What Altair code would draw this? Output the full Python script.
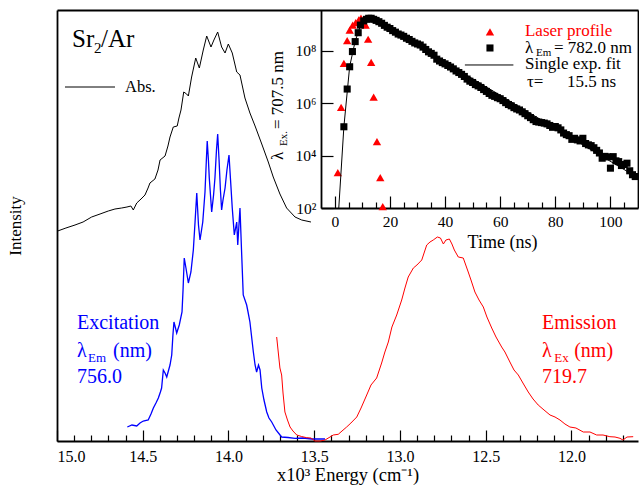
import altair as alt
import pandas as pd

FONT = "Liberation Serif"
BLUE = "#0000ff"
RED = "#ff0000"

# ---------------- main spectra: energy (x10^3 cm^-1), intensity (arb. units) ----------------
abs_E = [14.996, 14.948, 14.895, 14.848, 14.798, 14.749, 14.701, 14.662, 14.623, 14.592, 14.569, 14.555,
         14.535, 14.510, 14.487, 14.469, 14.458, 14.429, 14.411, 14.399, 14.370, 14.353, 14.341, 14.322,
         14.299, 14.289, 14.277, 14.261, 14.244, 14.234, 14.215, 14.191, 14.170, 14.147, 14.127, 14.102,
         14.085, 14.063, 14.040, 14.020, 14.001, 13.978, 13.952, 13.933, 13.904, 13.875, 13.845, 13.806,
         13.768, 13.739, 13.700, 13.661, 13.612, 13.573, 13.519]
abs_I = [210, 213, 216, 219, 224, 227, 230, 232, 233, 234, 235, 231,
         238, 242, 246, 253, 258, 262, 271, 281, 285, 295, 304, 314,
         315, 323, 331, 349, 347, 345, 364, 383, 373, 391, 405, 394,
         401, 409, 394, 388, 397, 388, 369, 366, 343, 328, 315, 297,
         279, 264, 247, 233, 224, 221, 219]

exc_E = [14.590, 14.563, 14.535, 14.516, 14.497, 14.468, 14.452, 14.438, 14.423, 14.409, 14.397, 14.390,
         14.380, 14.370, 14.360, 14.341, 14.331, 14.324, 14.318, 14.309, 14.302, 14.287, 14.271, 14.265,
         14.258, 14.248, 14.234, 14.219, 14.205, 14.195, 14.185, 14.175, 14.166, 14.150, 14.137, 14.129,
         14.124, 14.117, 14.112, 14.098, 14.087, 14.079, 14.070, 14.063, 14.055, 14.047, 14.040, 14.032,
         14.020, 14.009, 13.997, 13.988, 13.978, 13.966, 13.952, 13.946, 13.939, 13.933, 13.924, 13.914,
         13.894, 13.886, 13.875, 13.855, 13.845, 13.836, 13.825, 13.816, 13.806, 13.793, 13.777, 13.764,
         13.748, 13.723, 13.690, 13.653, 13.612, 13.566, 13.515, 13.478, 13.437]
exc_I = [14, 16, 15, 18, 20, 21, 27, 33, 38, 43, 49, 53,
         71, 68, 64, 76, 86, 106, 119, 113, 108, 116, 129, 151,
         183, 173, 158, 169, 191, 219, 248, 216, 201, 219, 249, 281,
         300, 281, 263, 229, 246, 263, 291, 307, 281, 251, 231, 241,
         253, 271, 286, 261, 233, 206, 219, 196, 216, 233, 191, 146,
         136, 129, 119, 89, 76, 69, 76, 71, 53, 41, 29, 23,
         19, 11, 4, 3.5, 2.7, 3, 2, 2, 2]

em_E = [13.719, 13.708, 13.700, 13.690, 13.682, 13.671, 13.656, 13.641, 13.624, 13.602, 13.574, 13.544,
        13.519, 13.496, 13.466, 13.437, 13.408, 13.389, 13.360, 13.338, 13.311, 13.286, 13.252, 13.227,
        13.194, 13.169, 13.136, 13.107, 13.088, 13.068, 13.047, 13.019, 12.990, 12.971, 12.952, 12.922,
        12.901, 12.873, 12.844, 12.825, 12.806, 12.782, 12.764, 12.747, 12.732, 12.712, 12.697, 12.683,
        12.660, 12.631, 12.602, 12.586, 12.563, 12.539, 12.514, 12.493, 12.465, 12.440, 12.407, 12.388,
        12.359, 12.335, 12.310, 12.283, 12.252, 12.224, 12.194, 12.160, 12.125, 12.096, 12.067, 12.038,
        12.009, 11.974, 11.931, 11.892, 11.853, 11.816, 11.776, 11.746, 11.717, 11.700, 11.676, 11.640]
em_I = [104, 86, 73, 66, 48, 29, 21, 14, 10, 6, 4.5, 3.3,
        3, 0, 0, 1, 4, 6, 6.7, 10, 14, 18, 24, 33,
        46, 56, 63, 78, 89, 99, 114, 126, 141, 153, 164, 173,
        176, 181, 196, 199, 201, 204, 203, 197, 201, 202, 197, 191,
        184, 183, 169, 161, 149, 141, 134, 124, 113, 104, 94, 89,
        79, 71, 66, 58, 49, 42, 36, 31, 26, 24, 21, 17,
        14, 13, 9, 9, 6, 6, 4.3, 4, 2.7, 1, 4, 4.3]

# ---------------- inset: decay traces, time (ns) and log10(counts) ----------------
laser_t = [1.1, 2.3, 3.3, 4.5, 5.4, 6.5, 7.6, 8.7, 9.5, 11.2, 12.1, 13.2, 14.1, 15.3, 16.5, 17.4]
laser_log = [3.35, 5.84, 7.52, 8.39, 8.79, 8.98, 9.07, 9.18, 9.25, 8.98, 8.44, 7.56, 6.23, 4.53, 3.16, 2.05]

decay_t = [3.3, 4.5, 5.4, 6.4, 7.4, 8.5, 9.3, 10.5, 11.5, 12.3, 13.2, 14.1,
           15, 16, 17, 18, 19, 20, 21, 22, 23, 24, 25, 26, 27, 28, 29, 30, 31, 32, 33, 34, 35, 36, 37, 38,
           39, 40, 41, 42, 43, 44, 45, 46, 47, 48, 49, 50, 51, 52, 53, 54, 55, 56, 57, 58, 59, 60, 61, 62,
           63, 64, 65, 66, 67, 68, 69, 70, 71, 72, 73, 74, 75, 76, 77, 78, 79, 80, 81, 82, 83, 84, 85, 86,
           87, 88, 89, 90, 91, 92, 93, 94, 95, 96, 97, 98, 99, 100, 101, 102, 103, 104, 105, 106, 107, 108, 109]
decay_log = [5.10, 6.54, 7.39, 7.97, 8.35, 8.69, 8.98, 9.14, 9.20, 9.24, 9.24, 9.20,
             9.16, 9.11, 9.05, 8.97, 8.90, 8.85, 8.77, 8.71, 8.64, 8.60, 8.55, 8.48, 8.43, 8.36, 8.30, 8.26,
             8.22, 8.14, 8.05, 7.96, 7.90, 7.83, 7.68, 7.61,
             7.55, 7.50, 7.44, 7.38, 7.31, 7.23, 7.17, 7.10, 7.02, 6.92, 6.84, 6.79, 6.71, 6.66, 6.60, 6.52,
             6.45, 6.37, 6.30, 6.26, 6.21, 6.17, 6.10, 6.02,
             5.95, 5.90, 5.83, 5.78, 5.74, 5.67, 5.60, 5.52, 5.45, 5.37, 5.30, 5.28, 5.26, 5.24, 5.21, 5.15,
             5.08, 5.11, 5.06, 4.98, 4.86, 4.80, 4.76, 4.62,
             4.66, 4.60, 4.56, 4.66, 4.46, 4.41, 4.38, 4.30, 4.20, 4.10, 3.90, 3.97, 3.95, 3.52, 3.96, 3.80,
             3.77, 3.62, 3.66, 3.71, 3.42, 3.27, 3.20]

fit_t = [1.45, 3.3, 5.4, 7.4, 9.3, 11.0, 12.5, 14.0, 110.0]
fit_log = [2.0, 5.1, 7.4, 8.37, 8.95, 9.18, 9.24, 9.2, 3.15]

# ticks
major_E = [15.0, 14.5, 14.0, 13.5, 13.0, 12.5, 12.0]
minor_E = [14.9, 14.8, 14.7, 14.6, 14.4, 14.3, 14.2, 14.1, 13.9, 13.8, 13.7, 13.6, 13.4, 13.3, 13.2, 13.1,
           12.9, 12.8, 12.7, 12.6, 12.4, 12.3, 12.2, 12.1, 11.9, 11.8, 11.7]
major_T = [0, 20, 40, 60, 80, 100]
minor_T = [5, 10, 15, 25, 30, 35, 45, 50, 55, 65, 70, 75, 85, 90, 95, 105]
major_C = [1e2, 1e4, 1e6, 1e8]

# annotation texts (positions in main-plot data units: energy, intensity)
ann_text = ["Sr", "2", "/Ar", "Abs.",
            "Excitation", "λ", "Em", "(nm)", "756.0",
            "Emission", "λ", "Ex", "(nm)", "719.7",
            "λ", "Ex.", "= 707.5 nm",
            "Laser profile", "λ", "Em", "= 782.0 nm", "Single exp. fit", "τ=", "15.5 ns"]
ann_E = [14.9125, 14.7843, 14.7434, 14.6035,
         14.8834, 14.8834, 14.8192, 14.6735, 14.8834,
         12.172, 12.172, 12.100, 11.984, 12.172,
         13.6822, 13.6589, 13.6822,
         12.271, 12.271, 12.2070, 12.1020, 12.271, 12.2595, 12.0262]
ann_I = [394, 388, 394, 349,
         112, 84, 79, 84, 58,
         112, 84, 79, 84, 58,
         281, 295, 312,
         405, 388, 385, 388, 372, 354, 354]
ann_size = [25, 15, 25, 16.5,
            20, 20, 13, 20, 20,
            20, 20, 13, 20, 20,
            17, 11, 17,
            17, 17, 11, 17, 17, 17, 17]
ann_color = ["black"] * 4 + [BLUE] * 5 + [RED] * 5 + ["black"] * 3 + [RED] + ["black"] * 6
ann_angle = [0] * 14 + [270] * 3 + [0] * 7

# legend samples
abs_key_E = [14.9534, 14.6618]
abs_key_I = [354, 354]
key_tri = (56.3, 10 ** 8.72)
key_sq = (56.3, 10 ** 8.107)
key_fit_t = [47.2, 64.8]
key_fit_c = [10 ** 7.458, 10 ** 7.458]

# ---------------- frames ----------------
abs_df = pd.DataFrame({"E": abs_E, "I": abs_I})
exc_df = pd.DataFrame({"E": exc_E, "I": exc_I})
em_df = pd.DataFrame({"E": em_E, "I": em_I})
ann_df = pd.DataFrame({"text": ann_text, "E": ann_E, "I": ann_I, "size": ann_size,
                       "color": ann_color, "angle": ann_angle})
abs_key_df = pd.DataFrame({"E": abs_key_E, "I": abs_key_I})
laser_df = pd.DataFrame({"t": laser_t, "c": [10 ** v for v in laser_log]})
decay_df = pd.DataFrame({"t": decay_t, "c": [10 ** v for v in decay_log]})
fit_df = pd.DataFrame({"t": fit_t, "c": [10 ** v for v in fit_log]})
tri_key_df = pd.DataFrame({"t": [key_tri[0]], "c": [key_tri[1]]})
sq_key_df = pd.DataFrame({"t": [key_sq[0]], "c": [key_sq[1]]})
fit_key_df = pd.DataFrame({"t": key_fit_t, "c": key_fit_c})

W, H = 581, 431
IN_L, IN_B = 264, 198  # inset left edge / bottom edge inside the plot area


def E_scale():
    return alt.Scale(domain=[11.612, 15.0], reverse=True, nice=False, zero=False)


def I_scale():
    return alt.Scale(domain=[0, 431], nice=False)


def T_scale():
    return alt.Scale(domain=[-5, 110], range=[IN_L, W], nice=False, zero=False)


def C_scale():
    return alt.Scale(type="log", domain=[1e2, 3.6e9], range=[IN_B, 0], nice=False)


common = dict(grid=False, domainColor="black", tickColor="black", labelColor="black",
              titleColor="black", labelFont=FONT, titleFont=FONT, titleFontWeight="normal",
              domainWidth=1.8, tickWidth=1.2)


def ax(**kw):
    d = dict(common)
    d.update(kw)
    return alt.Axis(**d)


ax_E_labels = ax(orient="bottom", values=major_E, format=".1f", ticks=False, tickSize=0,
                 labelFontSize=16, labelBaseline="alphabetic", labelPadding=20, labelFlush=True,
                 labelOverlap=False, title="x10³ Energy (cm⁻¹)", titleFontSize=18.5,
                 titleBaseline="alphabetic", titleY=39, titleX=W / 2)
ax_E_major = ax(orient="top", offset=-H, values=major_E, labels=False, domain=False, tickSize=11, title=None)
ax_E_minor = ax(orient="top", offset=-H, values=minor_E, labels=False, domain=False, tickSize=6, title=None)
ax_E_frame = ax(orient="top", offset=0, labels=False, ticks=False, domain=True, title=None)
ax_I = ax(orient="left", values=[0], labels=False, ticks=False, domain=True, title="Intensity",
          titleFontSize=17, titleAngle=270, titleBaseline="alphabetic", titleAlign="center",
          titleX=-37, titleY=H / 2)

ax_T_labels = ax(orient="bottom", offset=-(H - IN_B), values=major_T, format="d", ticks=False, tickSize=0,
                 labelFontSize=15.5, labelBaseline="alphabetic", labelPadding=18, labelFlush=False,
                 labelOverlap=False, title="Time (ns)", titleFontSize=18, titleBaseline="alphabetic",
                 titleY=39, titleX=445, titleAlign="center")
ax_T_major = ax(orient="top", offset=-IN_B, values=major_T, labels=False, domain=False, tickSize=12, title=None)
ax_T_minor = ax(orient="top", offset=-IN_B, values=minor_T, labels=False, domain=False, tickSize=6, title=None)
sup = "['⁰','¹','²','³','⁴','⁵','⁶','⁷','⁸','⁹']"
ax_C_labels = ax(orient="left", offset=-IN_L, values=major_C,
                 labelExpr="'10' + " + sup + "[round(log(datum.value)/LN10)]",
                 ticks=False, tickSize=0, labelPadding=5, labelFontSize=15.5, labelOverlap=False, title=None)
ax_C_ticks = ax(orient="right", offset=-(W - IN_L), values=major_C, labels=False, domain=False,
                tickSize=12, title=None)
ax_C_frame = ax(orient="right", offset=0, labels=False, ticks=False, domain=True, title=None)

# ---------------- main layers ----------------
abs_line = alt.Chart(abs_df).mark_line(color="black", strokeWidth=1).encode(
    x=alt.X("E:Q", scale=E_scale(), axis=ax_E_labels),
    y=alt.Y("I:Q", scale=I_scale(), axis=ax_I))
exc_line = alt.Chart(exc_df).mark_line(color=BLUE, strokeWidth=1.3).encode(
    x=alt.X("E:Q", scale=E_scale(), axis=ax_E_major),
    y=alt.Y("I:Q", scale=I_scale(), axis=None))
em_line = alt.Chart(em_df).mark_line(color=RED, strokeWidth=1).encode(
    x=alt.X("E:Q", scale=E_scale(), axis=ax_E_frame),
    y=alt.Y("I:Q", scale=I_scale(), axis=None))
abs_key = alt.Chart(abs_key_df).mark_line(color="black", strokeWidth=1).encode(
    x=alt.X("E:Q", scale=E_scale(), axis=ax_E_minor),
    y=alt.Y("I:Q", scale=I_scale(), axis=None))
texts = alt.Chart(ann_df).mark_text(align="left", baseline="alphabetic", font=FONT).encode(
    x=alt.X("E:Q", scale=E_scale(), axis=None),
    y=alt.Y("I:Q", scale=I_scale(), axis=None),
    text="text:N",
    size=alt.Size("size:Q", scale=None),
    color=alt.Color("color:N", scale=None),
    angle=alt.Angle("angle:Q", scale=None))

# ---------------- inset layers ----------------
tri = alt.Chart(laser_df).mark_point(shape="triangle-up", filled=True, color=RED, size=70, opacity=1).encode(
    x=alt.X("t:Q", scale=T_scale(), axis=ax_T_labels),
    y=alt.Y("c:Q", scale=C_scale(), axis=ax_C_labels))
sq = alt.Chart(decay_df).mark_point(shape="square", filled=True, color="black", size=50, opacity=1).encode(
    x=alt.X("t:Q", scale=T_scale(), axis=ax_T_major),
    y=alt.Y("c:Q", scale=C_scale(), axis=ax_C_ticks))
fit = alt.Chart(fit_df).mark_line(color="black", strokeWidth=1).encode(
    x=alt.X("t:Q", scale=T_scale(), axis=ax_T_minor),
    y=alt.Y("c:Q", scale=C_scale(), axis=ax_C_frame))
tri_key = alt.Chart(tri_key_df).mark_point(shape="triangle-up", filled=True, color=RED, size=70, opacity=1).encode(
    x=alt.X("t:Q", scale=T_scale(), axis=None), y=alt.Y("c:Q", scale=C_scale(), axis=None))
sq_key = alt.Chart(sq_key_df).mark_point(shape="square", filled=True, color="black", size=50, opacity=1).encode(
    x=alt.X("t:Q", scale=T_scale(), axis=None), y=alt.Y("c:Q", scale=C_scale(), axis=None))
fit_key = alt.Chart(fit_key_df).mark_line(color="black", strokeWidth=1).encode(
    x=alt.X("t:Q", scale=T_scale(), axis=None), y=alt.Y("c:Q", scale=C_scale(), axis=None))

chart = alt.layer(abs_line, exc_line, em_line, abs_key, texts,
                  tri, sq, fit, tri_key, sq_key, fit_key).resolve_scale(
    x="independent", y="independent").properties(
    width=W, height=H,
    padding={"left": 57, "top": 10, "right": 1, "bottom": 44},
    autosize=alt.AutoSizeParams(type="none"),
    background="white",
).configure(font=FONT).configure_view(strokeWidth=0)

chart.save("out.html", embed_options={"renderer": "svg", "actions": False})
